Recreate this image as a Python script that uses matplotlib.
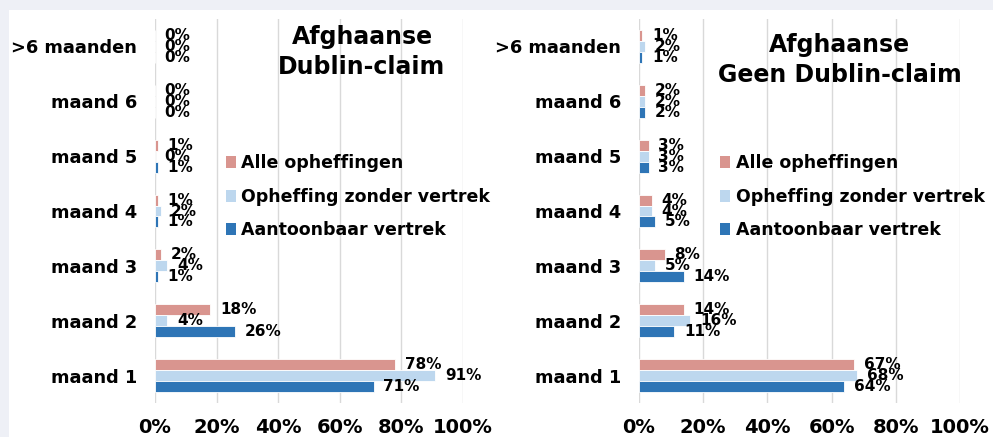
import matplotlib.pyplot as plt
from matplotlib.patches import Rectangle, Patch
import numpy as np

maanden = ['maand 1', 'maand 2', 'maand 3', 'maand 4', 'maand 5', 'maand 6', '>6 maanden']
reeksen = ['Alle opheffingen', 'Opheffing zonder vertrek', 'Aantoonbaar vertrek']
kleuren = ['#d9958f', '#bdd7ee', '#2e75b6']

# Afghaanse, Dublin-claim
dublin_alle = [78, 18, 2, 1, 1, 0, 0]
dublin_zonder = [91, 4, 4, 2, 0, 0, 0]
dublin_aantoonbaar = [71, 26, 1, 1, 1, 0, 0]

# Afghaanse, geen Dublin-claim
geen_alle = [67, 14, 8, 4, 3, 2, 1]
geen_zonder = [68, 16, 5, 4, 3, 2, 2]
geen_aantoonbaar = [64, 11, 14, 5, 3, 2, 1]

plt.rcParams['font.family'] = 'DejaVu Sans'
plt.rcParams['font.weight'] = 'bold'

fig = plt.figure(figsize=(9.93, 4.37), dpi=100)
fig.patch.set_facecolor('#eef0f6')
fig.add_artist(Rectangle((9 / 993, 0), 1, (437 - 10) / 437, transform=fig.transFigure,
                         facecolor='white', edgecolor='none', zorder=0))


def teken(ax, waarden, titel, titel_xy, legend_xy):
    y = np.arange(len(maanden))
    h = 0.2
    for k, (vals, kleur) in enumerate(zip(waarden, kleuren)):
        pos = y + h * (1 - k)
        ax.barh(pos, vals, height=h, color=kleur, edgecolor='white', linewidth=0.6, zorder=3)
        for p, v in zip(pos, vals):
            ax.annotate(f'{v}%', (v, p), xytext=(7, 0), textcoords='offset points',
                        ha='left', va='center', fontsize=11, fontweight='bold', zorder=4)
    ax.set_xlim(0, 100)
    ax.set_ylim(-0.5, len(maanden) - 0.5)
    ax.set_yticks(y)
    ax.set_yticklabels(maanden, fontsize=12.8, fontweight='bold')
    ax.set_xticks([0, 20, 40, 60, 80, 100])
    ax.set_xticklabels([f'{t}%' for t in [0, 20, 40, 60, 80, 100]], fontsize=14, fontweight='bold')
    ax.tick_params(length=0, axis='y', pad=13)
    ax.tick_params(length=0, axis='x', pad=11)
    ax.grid(axis='x', color='#d9d9d9', linewidth=1, zorder=0)
    for s in ax.spines.values():
        s.set_visible(False)
    ax.set_facecolor('none')
    ax.text(titel_xy[0], titel_xy[1], titel, transform=ax.transAxes, ha='center', va='center',
            fontsize=17, fontweight='bold', linespacing=1.3)
    handles = [Patch(facecolor=c, edgecolor='none') for c in kleuren]
    ax.legend(handles, reeksen, loc='upper left', bbox_to_anchor=legend_xy, frameon=False,
              prop={'size': 12.5, 'weight': 'bold'}, handlelength=0.6, handleheight=0.7,
              handletextpad=0.3, labelspacing=0.9, borderaxespad=0, borderpad=0)


ax1 = fig.add_axes([155 / 993, 34 / 437, 308 / 993, 384 / 437])
teken(ax1, [dublin_alle, dublin_zonder, dublin_aantoonbaar], 'Afghaanse\nDublin-claim',
      (0.672, 0.914), (0.23, 0.648))

ax2 = fig.add_axes([639 / 993, 34 / 437, 321 / 993, 384 / 437])
teken(ax2, [geen_alle, geen_zonder, geen_aantoonbaar], 'Afghaanse\nGeen Dublin-claim',
      (0.626, 0.893), (0.252, 0.648))

fig.savefig('out.png', dpi=100, facecolor=fig.get_facecolor())
